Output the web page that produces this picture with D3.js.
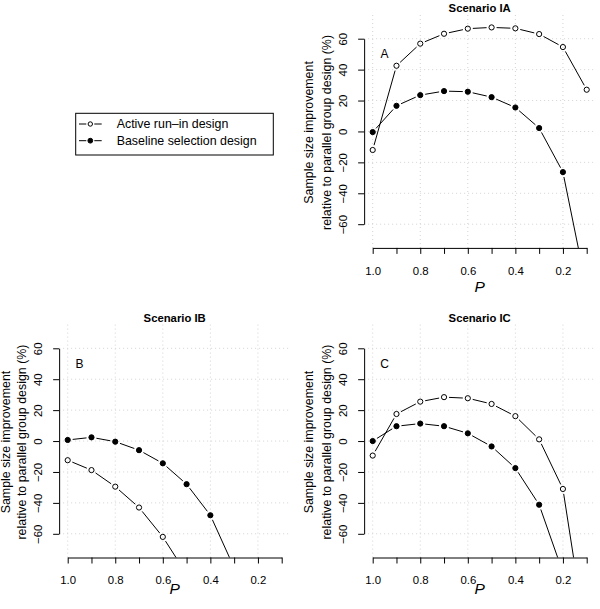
<!DOCTYPE html>
<html>
<head>
<meta charset="utf-8">
<script src="https://cdn.jsdelivr.net/npm/d3@7"></script>
<style>
  html, body { margin: 0; padding: 0; background: #fff; }
  svg { display: block; font-family: "Liberation Sans", Arial, Helvetica, sans-serif; }
</style>
</head>
<body>
<svg id="chart" width="600" height="609"></svg>
<script>
// ---- data ----
const P = [1.0, 0.9, 0.8, 0.7, 0.6, 0.5, 0.4, 0.3, 0.2, 0.1];
const xTicks = [1.0, 0.9, 0.8, 0.7, 0.6, 0.5, 0.4, 0.3, 0.2, 0.1];
const xLabelTicks = [1.0, 0.8, 0.6, 0.4, 0.2];
const yTicks = [-60, -40, -20, 0, 20, 40, 60];
const seriesNames = ["Active run\u2013in design", "Baseline selection design"];

const activeA   = [-12, 42.5, 56.8, 63.2, 66.5, 67.3, 66.7, 63.0, 54.6, 27];
const baselineA = [-0.4, 16.6, 23.5, 26.1, 25.7, 22.2, 15.5, 2.2, -26.3, -102];
const activeB   = [-12.4, -18.8, -29.5, -43, -62, -86, null, null, null, null];
const baselineB = [0.7, 2.4, -0.4, -5.9, -14.4, -27.9, -48, -82, null, null];
const activeC   = [-9.4, 17.5, 25.5, 28.4, 27.7, 24.0, 16.1, 1.1, -31, -130];
const baselineC = [0.0, 9.6, 11.3, 9.6, 5.0, -3.5, -17.5, -41.2, -85, null];

const titles = ["Scenario IA", "Scenario IB", "Scenario IC"];
const panelLetters = ["A", "B", "C"];

// ---- layout ----
const svg = d3.select("#chart");
const panels = [
  { title: titles[0], letter: panelLetters[0], active: activeA, baseline: baselineA, x1: 372.7, y60: 38.7, pOff: 44.4 },
  { title: titles[1], letter: panelLetters[1], active: activeB, baseline: baselineB, x1: 67.7,  y60: 348.3, pOff: 36.8 },
  { title: titles[2], letter: panelLetters[2], active: activeC, baseline: baselineC, x1: 372.7, y60: 348.3, pOff: 36.8 }
];
const XW = 214, YH = 185.5;
const padX = XW * 0.04, padY = 23.7;
const R = 2.6, GAP = 5;

function segWithGap(g, pts) {
  for (let i = 0; i < pts.length - 1; i++) {
    const a = pts[i], b = pts[i + 1];
    if (!a || !b) continue;
    const dx = b[0] - a[0], dy = b[1] - a[1];
    const L = Math.hypot(dx, dy);
    if (L <= 2 * GAP) continue;
    const ux = dx / L, uy = dy / L;
    g.append("line")
      .attr("x1", a[0] + ux * GAP).attr("y1", a[1] + uy * GAP)
      .attr("x2", b[0] - ux * GAP).attr("y2", b[1] - uy * GAP)
      .attr("stroke", "#000").attr("stroke-width", 1);
  }
}

panels.forEach((p, idx) => {
  const x = d3.scaleLinear().domain([1.0, 0.1]).range([p.x1, p.x1 + XW]);
  const y = d3.scaleLinear().domain([-60, 60]).range([p.y60 + YH, p.y60]);
  const left = p.x1 - padX, right = p.x1 + XW + padX;
  const top = p.y60 - padY, bottom = p.y60 + YH + padY;

  const g = svg.append("g");
  const clipId = "clip" + idx;
  svg.append("clipPath").attr("id", clipId)
    .append("rect").attr("x", left).attr("y", top).attr("width", right - left).attr("height", bottom - top);

  // grid
  const grid = g.append("g").attr("stroke", "#d3d3d3").attr("stroke-width", 1).attr("stroke-dasharray", "1,3");
  xLabelTicks.forEach(t => grid.append("line").attr("x1", x(t)).attr("x2", x(t)).attr("y1", top).attr("y2", bottom));
  yTicks.forEach(t => grid.append("line").attr("x1", left).attr("x2", right).attr("y1", y(t)).attr("y2", y(t)));

  // axes
  const xAxis = d3.axisBottom(x).tickValues(xTicks).tickSize(6).tickSizeOuter(0)
    .tickFormat(d => xLabelTicks.some(v => Math.abs(v - d) < 1e-9) ? d.toFixed(1) : "");
  const gx = g.append("g").attr("transform", `translate(0,${bottom})`).call(xAxis);
  gx.selectAll("text").attr("y", 26.7).attr("dy", 0).attr("font-size", 11.4)
    .attr("font-family", "Liberation Sans, Arial, sans-serif").attr("fill", "#000");
  gx.selectAll("line, path").attr("stroke", "#000");

  const yAxis = d3.axisLeft(y).tickValues(yTicks).tickSize(6).tickSizeOuter(0).tickFormat(d3.format("d"));
  const gy = g.append("g").attr("transform", `translate(${left},0)`).call(yAxis);
  gy.selectAll("text").attr("x", 0).attr("dy", 0).attr("y", 0)
    .attr("text-anchor", "middle").attr("transform", "translate(-17,0) rotate(-90)")
    .attr("font-size", 11.4).attr("font-family", "Liberation Sans, Arial, sans-serif").attr("fill", "#000");
  gy.selectAll("line, path").attr("stroke", "#000");

  // titles / labels
  const cx = (left + right) / 2, cy = (top + bottom) / 2;
  g.append("text").attr("x", cx).attr("y", top - 2.8).attr("text-anchor", "middle")
    .attr("font-size", 11.3).attr("font-weight", "bold").text(p.title);
  g.append("text").attr("x", cx).attr("y", bottom + p.pOff).attr("text-anchor", "middle")
    .attr("font-size", 15.5).attr("font-style", "italic").text("P");
  g.append("text").attr("transform", `translate(${Math.max(left - 51.6, 9.5)},${cy + 1}) rotate(-90)`)
    .attr("text-anchor", "middle").attr("font-size", 12.4).text("Sample size improvement");
  g.append("text").attr("transform", `translate(${left - 33.3},${cy + 1}) rotate(-90)`)
    .attr("text-anchor", "middle").attr("font-size", 12.4).text("relative to parallel group design (%)");
  g.append("text").attr("x", x(0.95)).attr("y", y(50) + 4.3).attr("text-anchor", "middle")
    .attr("font-size", 12).text(p.letter);

  // series
  const plot = g.append("g").attr("clip-path", `url(#${clipId})`);
  [[p.active, false], [p.baseline, true]].forEach(([vals, filled]) => {
    const pts = P.map((pv, i) => vals[i] == null ? null : [x(pv), y(vals[i])]);
    segWithGap(plot, pts);
    pts.forEach(pt => {
      if (!pt) return;
      plot.append("circle").attr("cx", pt[0]).attr("cy", pt[1]).attr("r", R)
        .attr("fill", filled ? "#000" : "none").attr("stroke", "#000").attr("stroke-width", 1);
    });
  });
});

// legend
const lg = svg.append("g");
lg.append("rect").attr("x", 75.7).attr("y", 113.3).attr("width", 197.6).attr("height", 41.7)
  .attr("fill", "none").attr("stroke", "#000").attr("stroke-width", 1);
seriesNames.forEach((name, i) => {
  const yy = 124 + i * 16.7;
  const cxL = 90.3;
  lg.append("line").attr("x1", 79).attr("x2", cxL - 4).attr("y1", yy).attr("y2", yy).attr("stroke", "#000");
  lg.append("line").attr("x1", cxL + 4).attr("x2", 101.7).attr("y1", yy).attr("y2", yy).attr("stroke", "#000");
  lg.append("circle").attr("cx", cxL).attr("cy", yy).attr("r", i === 0 ? 2.2 : 2.4)
    .attr("fill", i === 0 ? "none" : "#000").attr("stroke", "#000");
  lg.append("text").attr("x", 116.7).attr("y", yy + 4.4).attr("font-size", 12.4).text(name);
});
</script>
</body>
</html>
